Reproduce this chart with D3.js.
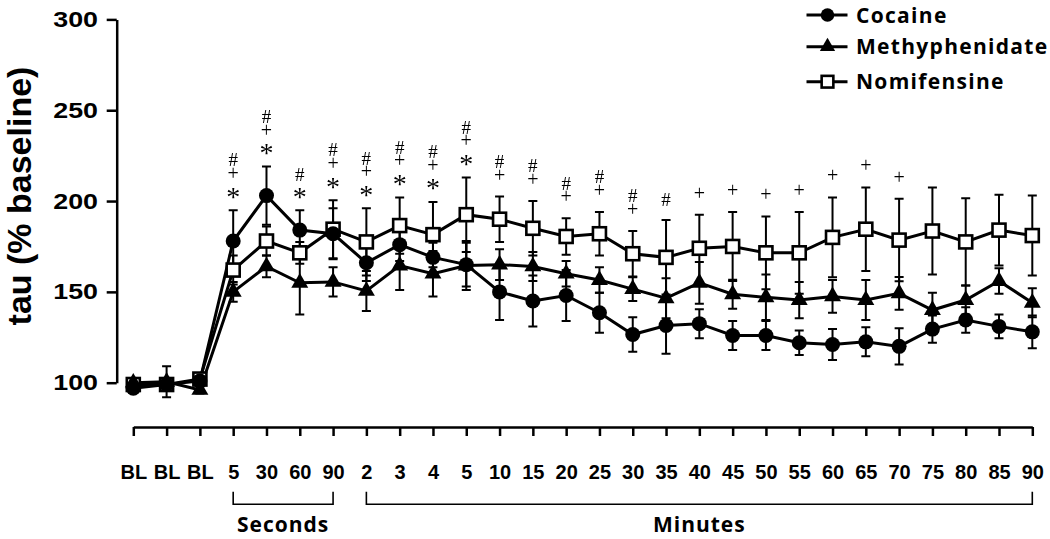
<!DOCTYPE html>
<html><head><meta charset="utf-8">
<script src="https://cdn.jsdelivr.net/npm/d3@7"></script>
<style>
html,body{margin:0;padding:0;background:#fff;}
svg{display:block;}
</style></head>
<body>
<svg id="chart" width="1050" height="539"></svg>
<script>
const xLabels = ["BL","BL","BL","5","30","60","90","2","3","4","5","10","15","20","25","30","35","40","45","50","55","60","65","70","75","80","85","90"];
const yTicks = [100,150,200,250,300];
const seriesNames = ["Cocaine","Methyphenidate","Nomifensine"];
const cocaine    = [97,99,101,178,203,184,182,166,176,169,165,150,145,148,138.5,126.5,131.5,132.5,126,126,122,121,122.5,120,129.5,134.5,131,128];
const cocaineErr = [2,3,3,17,16,11,14,10,9,8,12,15.5,14,14,11,9.5,15.5,8,8,8,6.7,8.5,8,10,7.5,7,6.5,9];
const methyl     = [100,100.5,96,150,164,155,155.5,150.5,164.5,160,164.5,165,164,160,156.5,151.5,146.5,155,148.7,147,145.5,147.5,145.5,149.2,140,145.5,156,144];
const methylErr  = [1,8.5,2,5.5,6,17.5,8,11,13.5,12.5,13.5,8.5,8,7,7,6.5,11,11.5,8,12.5,10,9,11,9,9.5,8,7,8];
const nomi       = [99,99,102,162,178,171.5,184.5,177.5,186.5,181.5,192.5,190,185,180.5,182,171,169,174,175,171.5,171.5,180,184.5,178.5,183.5,177.5,184,181];
const nomiErr    = [1,2,3,8,8,6,16,18.5,15.5,18,20.5,12.5,15,10,12,12.5,20.5,18.5,19,20,22.5,22,23,22.7,24,24,19.5,22];
const annotations = ["","","","#+*","#+*","#*","#+*","#+*","#+*","#+*","#+*","#+","#+","#+","#+","#+","#","+","+","+","+","+","+","+","","","",""];
const groups = [{label:"Seconds", from:3, to:6},{label:"Minutes", from:7, to:27}];

const svg = d3.select("#chart");
const defs = svg.append("defs");
defs.append("filter").attr("id","gray").append("feColorMatrix").attr("type","saturate").attr("values",0);

const idx = d3.range(xLabels.length);
const x = d3.scalePoint().domain(idx).range([133.3, 1032.3]);
const y = d3.scaleLinear().domain([100,300]).range([382.7, 19.4]);

// Y axis
const yAxis = svg.append("g").attr("transform","translate(116.7,0)")
  .call(d3.axisLeft(y).tickValues(yTicks).tickSize(10).tickSizeOuter(0).tickPadding(5.3));
yAxis.select(".domain").attr("stroke","#000").attr("stroke-width",2.5);
yAxis.selectAll(".tick line").attr("stroke","#000").attr("stroke-width",2.5);
yAxis.selectAll(".tick text").attr("font-family","Liberation Sans, Arial, sans-serif")
  .attr("font-weight","bold").attr("font-size",22).attr("fill","#000")
  .attr("transform","scale(1.22,1)");

// Y title
svg.append("text").attr("transform","translate(31,196) rotate(-90)")
  .attr("text-anchor","middle").attr("font-family","Liberation Sans, Arial, sans-serif")
  .attr("font-weight","bold").attr("font-size",34).attr("fill","#000").text("tau (% baseline)");

// X axis
const xAxis = svg.append("g").attr("transform","translate(0,427)")
  .call(d3.axisBottom(x).tickSize(9).tickSizeOuter(0).tickPadding(28.5).tickFormat(i => xLabels[i]));
xAxis.select(".domain").attr("stroke","#000").attr("stroke-width",2.5);
xAxis.selectAll(".tick line").attr("stroke","#000").attr("stroke-width",2.5);
xAxis.selectAll(".tick text").attr("font-family","Liberation Sans, Arial, sans-serif")
  .attr("font-weight","bold").attr("font-size",20).attr("fill","#000");

// Brackets
const br = svg.append("g");
groups.forEach(g => {
  const x0 = x(g.from), x1 = x(g.to);
  br.append("path").attr("d", `M${x0},491.7V504.3H${x1}V491.7`).attr("fill","none").attr("stroke","#000").attr("stroke-width",1.6);
  br.append("text").attr("x",(x0+x1)/2).attr("y",532).attr("text-anchor","middle")
    .attr("font-family","Open Sans, sans-serif").attr("font-weight","bold").attr("font-size",21)
    .attr("letter-spacing",1).attr("fill","#000").text(g.label);
});

const series = [
  {name:"Nomifensine", v:nomi, e:nomiErr, shape:"square"},
  {name:"Methyphenidate", v:methyl, e:methylErr, shape:"triangle"},
  {name:"Cocaine", v:cocaine, e:cocaineErr, shape:"circle"}
];

function marker(sel, shape, scale){
  scale = scale || 1;
  if(shape==="circle"){
    sel.append("circle").attr("r",7.5*scale).attr("fill","#000");
  } else if(shape==="triangle"){
    sel.append("path").attr("d", d3.symbol(d3.symbolTriangle, 125*scale*scale)()).attr("fill","#000");
  } else {
    const s = 13*scale;
    sel.append("rect").attr("x",-s/2).attr("y",-s/2).attr("width",s).attr("height",s)
      .attr("fill","#fff").attr("stroke","#000").attr("stroke-width",2.6);
  }
}

// error bars
const eb = svg.append("g");
series.forEach(s => {
  idx.forEach(i => {
    const cx = x(i), top = y(s.v[i]+s.e[i]), bot = y(s.v[i]-s.e[i]);
    eb.append("path").attr("d",`M${cx},${top}V${bot}M${cx-4.5},${top}H${cx+4.5}M${cx-4.5},${bot}H${cx+4.5}`)
      .attr("stroke","#000").attr("stroke-width",2).attr("fill","none");
  });
});
// lines
const line = d3.line().x(i => x(i));
series.forEach(s => {
  svg.append("path").attr("d", line.y(i => y(s.v[i]))(idx))
    .attr("fill","none").attr("stroke","#000").attr("stroke-width",3);
});
// markers
series.forEach(s => {
  idx.forEach(i => {
    const g = svg.append("g").attr("transform",`translate(${x(i)},${y(s.v[i])})`);
    marker(g, s.shape);
  });
});

// annotations: one text per column, one tspan per symbol
const an = svg.append("g").attr("font-family","Liberation Serif, Times New Roman, serif")
  .attr("fill","#000").attr("filter","url(#gray)");
idx.forEach(i => {
  const syms = annotations[i].split("");
  if(!syms.length) return;
  const maxTop = d3.max(series, s => s.v[i]+s.e[i]);
  const base = y(maxTop) - 20;
  const n = syms.length;
  const t = an.append("text").attr("text-anchor","middle");
  syms.forEach((c,k) => {
    const cy = base - (n-1-k)*15;
    const fs = c==="*" ? 28 : (c==="+" ? 20 : 19);
    const off = c==="*" ? 0.55*fs : (c==="+" ? 0.25*fs : 0.33*fs);
    t.append("tspan").attr("x", x(i)).attr("y", cy + off).attr("font-size", fs).text(c);
  });
});

// legend
const legendSeries = [series[2], series[1], series[0]];
const legendY = [15, 46.7, 81.7];
legendSeries.forEach((s,k) => {
  const g = svg.append("g").attr("transform",`translate(827.5,${legendY[k]})`);
  g.append("line").attr("x1",-21).attr("x2",20).attr("stroke","#000").attr("stroke-width",3);
  marker(g, s.shape, 0.9);
  g.append("text").attr("x",28.5).attr("dy","0.36em").attr("font-family","Open Sans, sans-serif")
    .attr("font-weight","bold").attr("font-size",21).attr("letter-spacing",1.3).attr("fill","#000").text(s.name);
});
</script>
</body></html>
